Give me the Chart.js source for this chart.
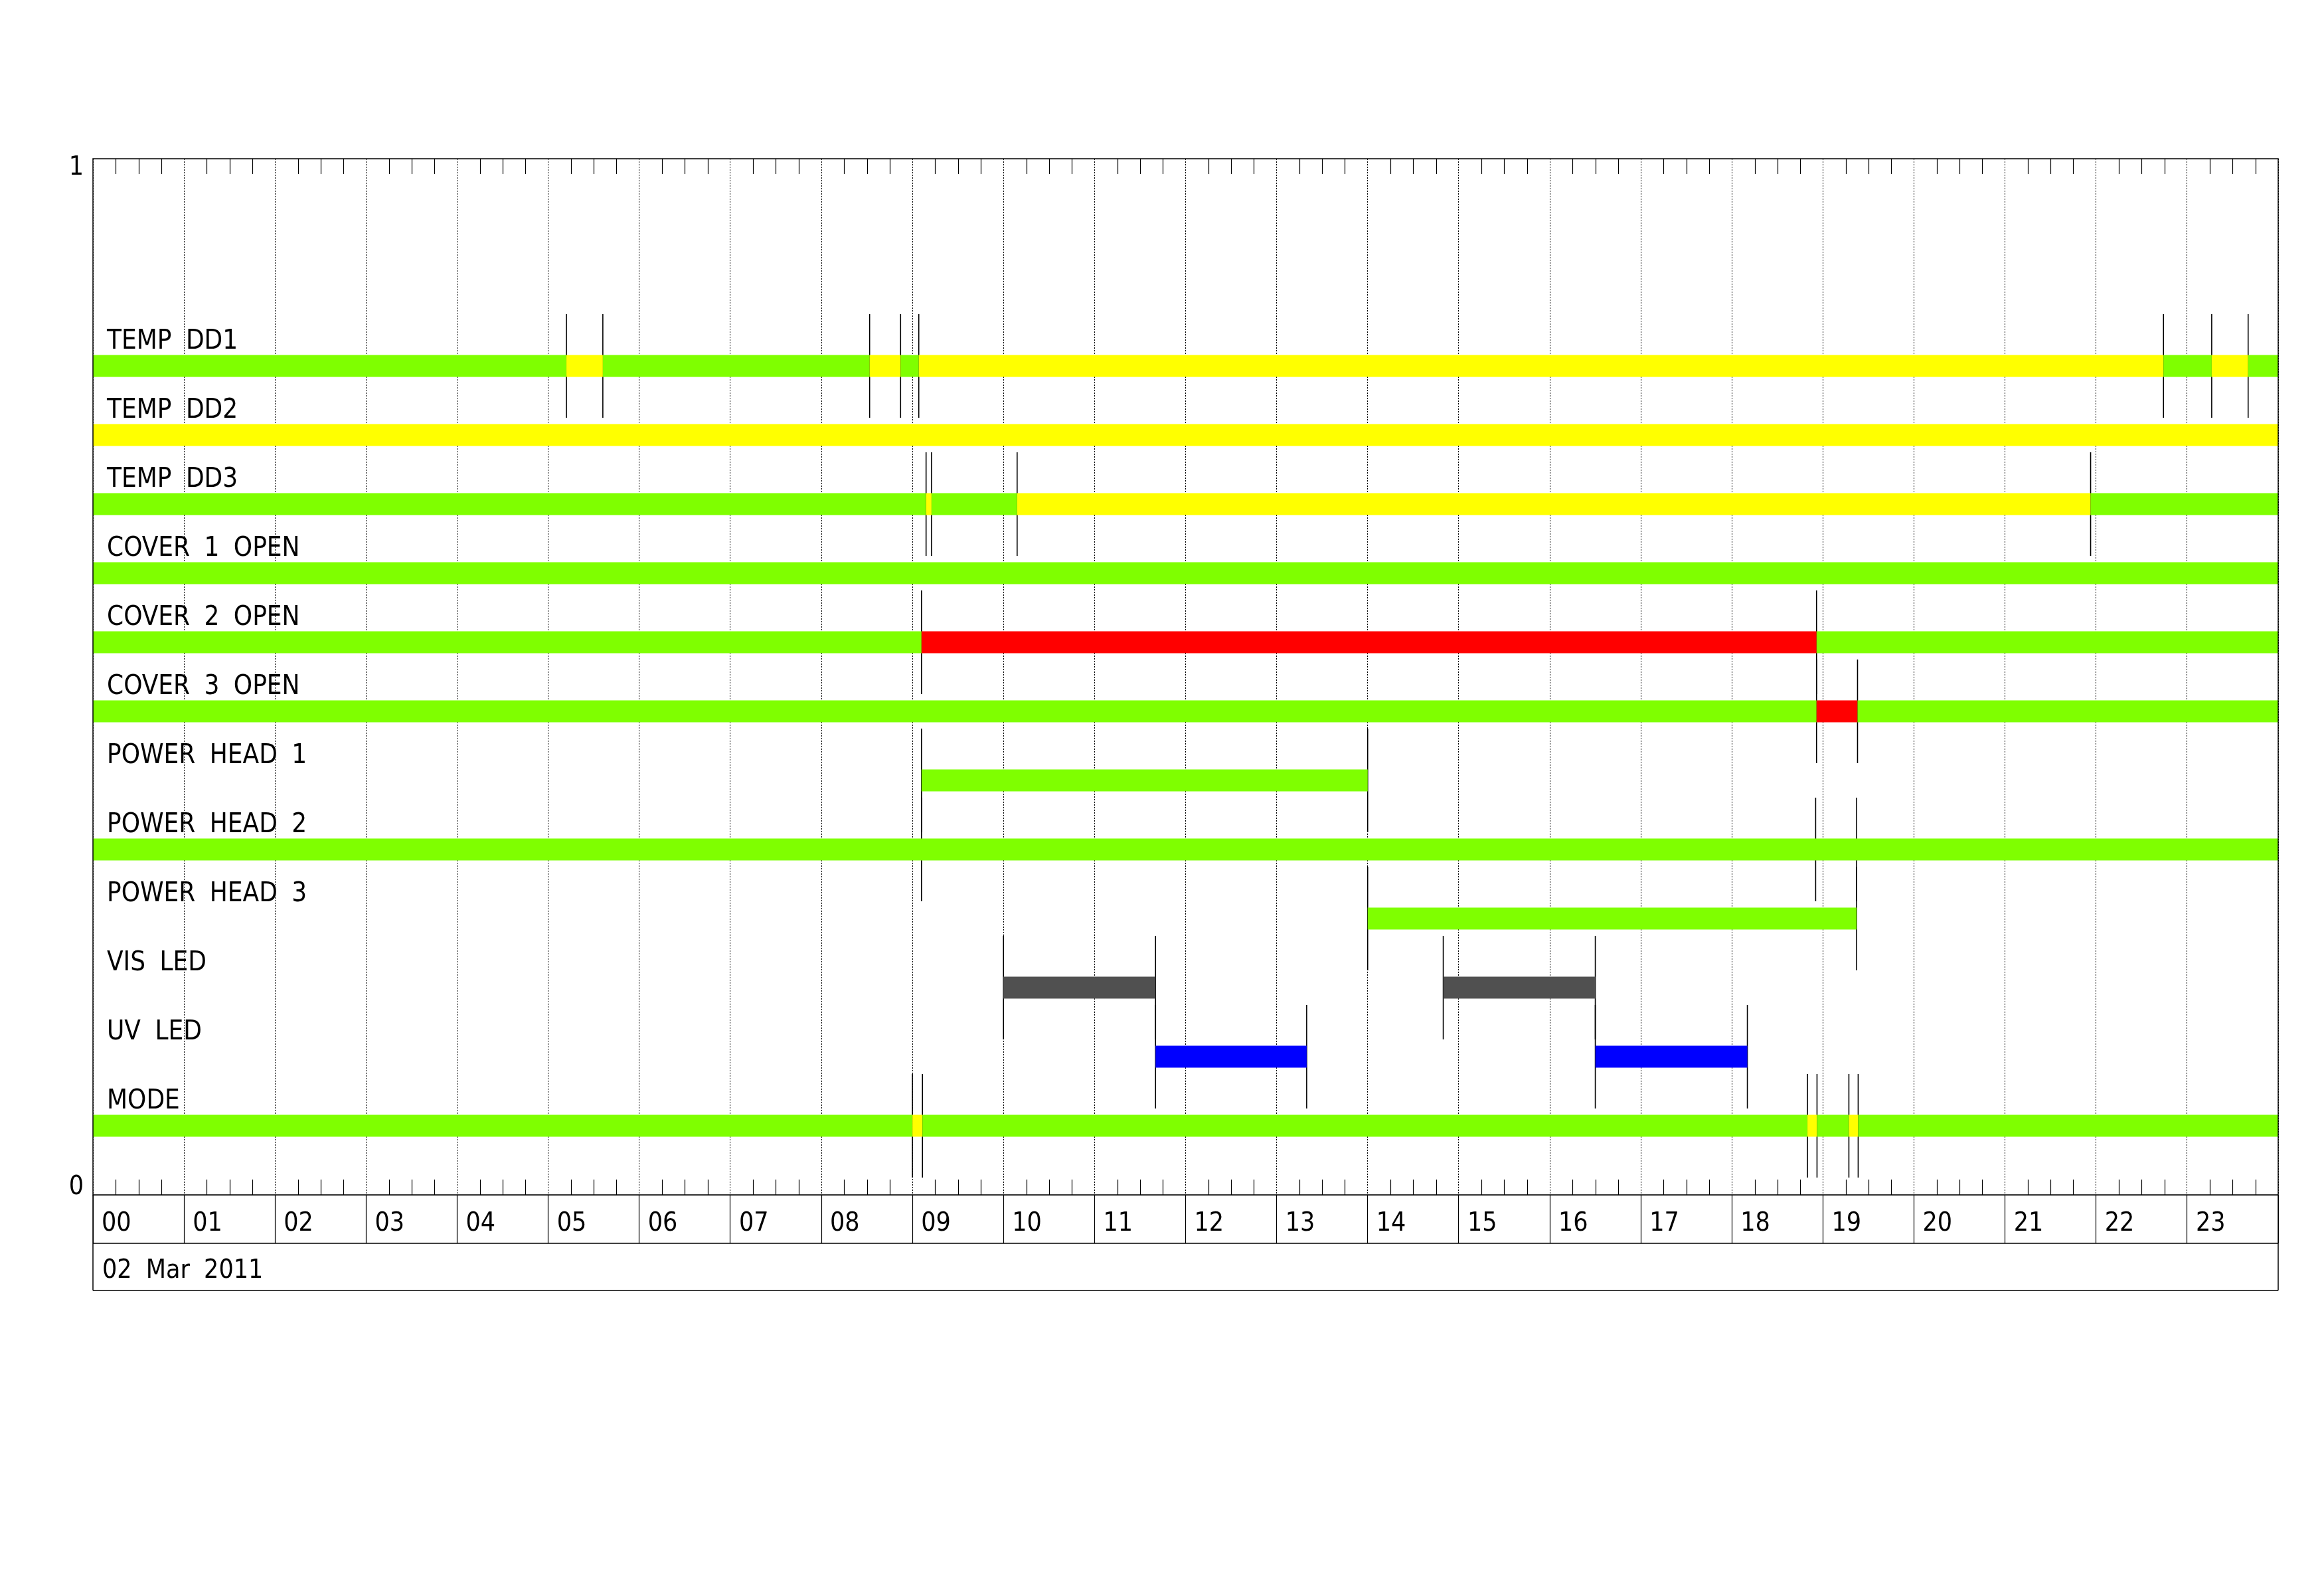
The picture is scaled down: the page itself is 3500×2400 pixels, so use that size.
<!DOCTYPE html>
<html>
<head>
<meta charset="utf-8">
<script src="https://cdn.jsdelivr.net/npm/chart.js@4/dist/chart.umd.min.js"></script>
<style>
html,body{margin:0;padding:0;background:#fff;}
#wrap{width:3500px;height:2400px;}
</style>
</head>
<body>
<div id="wrap"><canvas id="c" width="3500" height="2400"></canvas></div>
<script>
// ---------- data ----------
const hourLabels = ['00','01','02','03','04','05','06','07','08','09','10','11',
                    '12','13','14','15','16','17','18','19','20','21','22','23'];
const dateLabel = '02 Mar 2011';
const rowNames = ['TEMP DD1','TEMP DD2','TEMP DD3','COVER 1 OPEN','COVER 2 OPEN','COVER 3 OPEN',
                  'POWER HEAD 1','POWER HEAD 2','POWER HEAD 3','VIS LED','UV LED','MODE'];

// state-change times (hours) and the state held between consecutive times
// G = ok (green), Y = warning (yellow), R = alarm (red), V = VIS on, U = UV on, '-' = off
const dd1Times   = [0, 5.20, 5.60, 8.53, 8.87, 9.07, 22.74, 23.27, 23.67, 24];
const dd1States  = ['G','Y','G','Y','G','Y','G','Y','G'];
const dd2Times   = [0, 24];
const dd2States  = ['Y'];
const dd3Times   = [0, 9.15, 9.21, 10.15, 21.94, 24];
const dd3States  = ['G','Y','G','Y','G'];
const cov1Times  = [0, 24];
const cov1States = ['G'];
const cov2Times  = [0, 9.10, 18.93, 24];
const cov2States = ['G','R','G'];
const cov3Times  = [0, 18.93, 19.38, 24];
const cov3States = ['G','R','G'];
const ph1Times   = [9.10, 14.00];
const ph1States  = ['G'];
const ph2Times   = [0, 9.10, 18.92, 19.37, 24];
const ph2States  = ['G','G','G','G'];
const ph3Times   = [14.00, 19.37];
const ph3States  = ['G'];
const visTimes   = [10.00, 11.67, 14.83, 16.50];
const visStates  = ['V','-','V'];
const uvTimes    = [11.67, 13.33, 16.50, 18.17];
const uvStates   = ['U','-','U'];
const modeTimes  = [0, 9.00, 9.11, 18.83, 18.935, 19.285, 19.387, 24];
const modeStates = ['G','Y','G','Y','G','Y','G'];

const rowTimes  = [dd1Times, dd2Times, dd3Times, cov1Times, cov2Times, cov3Times,
                   ph1Times, ph2Times, ph3Times, visTimes, uvTimes, modeTimes];
const rowStates = [dd1States, dd2States, dd3States, cov1States, cov2States, cov3States,
                   ph1States, ph2States, ph3States, visStates, uvStates, modeStates];

// ---------- styling ----------
const stateColors = {G:'#7fff00', Y:'#ffff00', R:'#ff0000', V:'#505050', U:'#0000ff', '-':'rgba(0,0,0,0)'};
const FONT = "'DejaVu Sans Condensed', 'DejaVu Sans', sans-serif";
const ROW_SLOTS = 15;
const rowPos = i => (rowNames.length - i) / ROW_SLOTS;

const barSets = rowNames.map((name, i) => ({
  label: name,
  data: rowTimes[i].map(t => ({x: t, y: rowPos(i)})),
  showLine: true,
  borderWidth: 33,
  borderCapStyle: 'butt',
  borderColor: stateColors[rowStates[i][0]],
  segment: { borderColor: c => stateColors[rowStates[i][c.p0DataIndex]] },
  pointRadius: 0,
  pointHoverRadius: 0,
  tension: 0,
  order: 1
}));

const markerPoints = [];
rowTimes.forEach((times, i) => {
  times.forEach(t => { if (t > 0 && t < 24) markerPoints.push({x: t, y: rowPos(i)}); });
});
const markerSet = {
  label: 'transitions',
  data: markerPoints,
  showLine: false,
  pointStyle: 'line',
  rotation: 90,
  pointRadius: 78,
  pointHoverRadius: 78,
  pointBorderWidth: 1.6,
  pointBorderColor: '#000',
  pointBackgroundColor: '#000',
  order: 2
};

const framePlugin = {
  id: 'frame',
  beforeDraw(chart) {
    chart.ctx.wordSpacing = '10px';
  },
  beforeDatasetsDraw(chart) {
    const {ctx, scales: {x, y}} = chart;
    const top = y.getPixelForValue(1), bot = y.getPixelForValue(0);
    ctx.save();
    ctx.strokeStyle = '#000';
    ctx.lineWidth = 1.2;
    ctx.beginPath();
    for (let h = 0; h < hourLabels.length; h++) {
      for (let q = 1; q < 4; q++) {
        const px = Math.round(x.getPixelForValue(h + q / 4)) + 0.5;
        ctx.moveTo(px, top); ctx.lineTo(px, top + 23);
        ctx.moveTo(px, bot); ctx.lineTo(px, bot - 23);
      }
    }
    ctx.stroke();
    ctx.restore();
  },
  afterDraw(chart) {
    const {ctx, scales: {x, y}} = chart;
    const L = x.getPixelForValue(0), R = x.getPixelForValue(24);
    const T = y.getPixelForValue(1), B = y.getPixelForValue(0);
    const rowB = B + 73, dateB = B + 144;
    ctx.save();
    ctx.strokeStyle = '#000';
    ctx.lineWidth = 1.5;
    ctx.strokeRect(L, T, R - L, B - T);
    ctx.beginPath();
    ctx.moveTo(L, B); ctx.lineTo(L, dateB);
    ctx.moveTo(R, B); ctx.lineTo(R, dateB);
    ctx.moveTo(L, rowB); ctx.lineTo(R, rowB);
    ctx.moveTo(L, dateB); ctx.lineTo(R, dateB);
    ctx.stroke();
    ctx.fillStyle = '#000';
    ctx.font = "39px " + FONT;
    ctx.wordSpacing = '10px';
    ctx.textBaseline = 'middle';
    ctx.textAlign = 'left';
    ctx.fillText(dateLabel, L + 14, rowB + 42);
    ctx.textAlign = 'right';
    ctx.fillText('1', L - 14, T + 14);
    ctx.fillText('0', L - 14, B - 11);
    ctx.restore();
  }
};

new Chart(document.getElementById('c'), {
  type: 'scatter',
  data: { datasets: [...barSets, markerSet] },
  options: {
    responsive: false,
    animation: false,
    devicePixelRatio: 1,
    layout: { autoPadding: false, padding: { left: 140, right: 69, top: 239, bottom: 457 } },
    plugins: { legend: { display: false }, tooltip: { enabled: false } },
    events: [],
    scales: {
      x: {
        type: 'linear', position: 'bottom', min: 0, max: 24,
        afterBuildTicks: s => { s.ticks = hourLabels.map((_, h) => ({value: h})).concat([{value: 24}]); },
        afterFit: s => { s.height = 144; s.paddingLeft = 0; s.paddingRight = 0; },
        ticks: {
          autoSkip: false, maxRotation: 0, minRotation: 0,
          align: 'start', labelOffset: 13, padding: -53,
          color: '#000', font: { family: FONT, size: 39 },
          callback: v => hourLabels[v] ?? ''
        },
        grid: { color: '#000', lineWidth: 1, drawTicks: true, tickLength: 73, tickColor: '#000', tickWidth: 1.2 },
        border: { display: true, color: '#000', width: 1, dash: [2, 2] }
      },
      y: {
        type: 'linear', position: 'left', min: 0, max: 1,
        afterBuildTicks: s => {
          s.ticks = rowNames.map((_, i) => ({value: rowPos(i)})).sort((a, b) => a.value - b.value);
        },
        afterFit: s => { s.width = 0; s.paddingTop = 0; s.paddingBottom = 0; },
        ticks: {
          autoSkip: false, mirror: true, padding: 21, labelOffset: -36,
          color: '#000', font: { family: FONT, size: 40 },
          callback: v => {
            const i = rowNames.findIndex((_, k) => Math.abs(rowPos(k) - v) < 1e-6);
            return i >= 0 ? rowNames[i] : '';
          }
        },
        grid: { display: false },
        border: { display: false }
      }
    }
  },
  plugins: [framePlugin]
});
</script>
</body>
</html>
